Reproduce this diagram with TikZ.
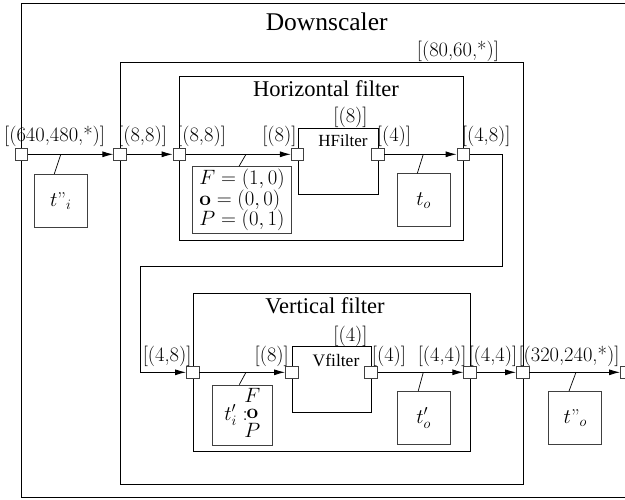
\documentclass[tikz,border=0pt]{standalone}
\usepackage[no-math]{fontspec}
\setmainfont{Liberation Serif}
\usetikzlibrary{arrows.meta,calc}
\newcommand\lmfont{\fontfamily{lmr}\selectfont}
\tikzset{
  box/.style={draw, line width=1pt, inner sep=0pt, anchor=north west},
  port/.style={draw=black!75, fill=white, minimum size=12.5pt, inner sep=0pt, line width=0.8pt},
  lbl/.style={font=\lmfont\fontsize{20.5}{24}\selectfont, inner sep=0pt},
  arr/.style={-{Latex[length=11pt,width=6pt]}, line width=0.9pt},
  tbox/.style={draw=black!75, inner sep=0pt, line width=0.8pt, font=\fontsize{20}{24}\selectfont},
  slash/.style={line width=0.7pt},
  title/.style={inner sep=0pt, anchor=base}
}
\begin{document}
\begin{tikzpicture}[x=1pt,y=-1pt]
\useasboundingbox (0,0) rectangle (625,499);
\clip (0,0) rectangle (625,499);
% boxes
\node[box, minimum width=630pt, minimum height=494.3pt] (down) at (21,2.7) {};
\node[box, minimum width=402.7pt, minimum height=422.6pt] (mid) at (120,61.7) {};
\node[box, minimum width=284pt, minimum height=164pt] (hf) at (179.3,76) {};
\node[box, minimum width=80.4pt, minimum height=65.7pt] (hfi) at (297.5,128.3) {};
\node[box, minimum width=277.3pt, minimum height=158.3pt] (vf) at (192.7,292.7) {};
\node[box, minimum width=79.3pt, minimum height=65.7pt] (vfi) at (291.7,346) {};
% titles
\node[title, font=\fontsize{25.5}{30}\selectfont] (tDown) at (326.7,30) {Downscaler};
\node[title, font=\fontsize{22.5}{27}\selectfont] (tHf) at (326,96.7) {Horizontal filter};
\node[title, font=\fontsize{22.5}{27}\selectfont] (tVf) at (325,313) {Vertical filter};
\node[title, font=\fontsize{17}{20}\selectfont] (tHfi) at (343,146.5) {HFilter};
\node[title, font=\fontsize{17.5}{20}\selectfont] (tVfi) at (336,366) {Vfilter};
% type boxes
\node[tbox, minimum width=53pt, minimum height=53pt] (ti) at (60.8,200.7) {$t\mbox{\lmfont''}_i$};
\node[tbox, minimum width=99.4pt, minimum height=66.6pt, align=left, inner sep=0.5pt, font=\fontsize{22.5}{20.8}\selectfont] (Fb) at (242,200) {$F=(1,0)$\\$\mathbf{o}=(0,0)$\\$P=(0,1)$};
\node[tbox, minimum width=53pt, minimum height=53pt] (to) at (423.7,200.3) {$t_o$};
\node[tbox, minimum width=60pt, minimum height=60pt] (tpi) at (242.3,415) {$t'_i\;{:}\!\renewcommand\arraystretch{0.66}\begin{array}{@{}c@{}}F\\\mathbf{o}\\P\end{array}$\hspace{6pt}};
\node[tbox, minimum width=53pt, minimum height=53pt] (tpo) at (423.7,418) {$t'_o$};
\node[tbox, minimum width=53pt, minimum height=53pt] (tdo) at (575.3,418) {$t\mbox{\lmfont''}_o$};
% ports
\node[port] (P1) at (21.3,154.3) {};
\node[port] (P2) at (120,154.3) {};
\node[port] (P3) at (179.3,154.3) {};
\node[port] (P4) at (297.5,154.3) {};
\node[port] (P5) at (377.7,154.3) {};
\node[port] (P6) at (463.3,154.3) {};
\node[port] (P7) at (192.7,372.3) {};
\node[port] (P8) at (291.7,372.3) {};
\node[port] (P9) at (371,372.3) {};
\node[port] (P10) at (470,372.3) {};
\node[port] (P11) at (522.7,372.3) {};
\node[port] (P12) at (626.7,372.3) {};
% connectors
\coordinate (c1) at (502.7,266.7);
\coordinate (c2) at (140,266.7);
\draw[arr] (P1) -- (P2);
\draw[arr] (P2) -- (P3);
\draw[arr] (P3) -- (P4);
\draw[arr] (P5) -- (P6);
\draw[arr] (P6.east) -| (c1) -- (c2) |- (P7.west);
\draw[arr] (P7) -- (P8);
\draw[arr] (P9) -- (P10);
\draw[arr] (P10) -- (P11);
\draw[arr] (P11) -- (P12);
% slashes
\draw[slash] ($(ti.north)+(-6.5,0)$) -- (ti.north |- P1);
\draw[slash] ($(Fb.north)+(-3,0)$) -- ($(Fb.north |- P3)+(4,0)$);
\draw[slash] ($(to.north)+(-6.4,0)$) -- ($(to.north |- P5)+(-0.4,0)$);
\draw[slash] ($(tpi.north)+(-3,0)$) -- ($(tpi.north |- P7)+(3.7,0)$);
\draw[slash] ($(tpo.north)+(-5.5,0)$) -- ($(tpo.north |- P9)+(-0.4,0)$);
\draw[slash] ($(tdo.north)+(-6.3,0)$) -- ($(tdo.north |- P11)+(0.7,0)$);
% port labels
\node[lbl, anchor=base west] (l1) at (4,141) {[(640,480,*)]};
\node[lbl, anchor=base west] (l2) at (118,141) {[(8,8)]};
\node[lbl, anchor=base west] (l3) at (177,141) {[(8,8)]};
\node[lbl, anchor=base east] (l4) at (296.7,141) {[(8)]};
\node[lbl, anchor=base] (l4b) at (350.5,122) {[(8)]};
\node[lbl, anchor=base west] (l5) at (376.7,141) {[(4)]};
\node[lbl, anchor=base west] (l6) at (461.7,141) {[(4,8)]};
\node[lbl, anchor=base west] (lm) at (416.7,56.7) {[(80,60,*)]};
\node[lbl, anchor=base east] (l7) at (191.7,361) {[(4,8)]};
\node[lbl, anchor=base east] (l8) at (289,361) {[(8)]};
\node[lbl, anchor=base] (l8b) at (350.5,341) {[(4)]};
\node[lbl, anchor=base west] (l9) at (371.7,361) {[(4)]};
\node[lbl, anchor=base east] (l10a) at (466.7,361) {[(4,4)]};
\node[lbl, anchor=base west] (l10b) at (468.3,361) {[(4,4)]};
\node[lbl, anchor=base west] (l11) at (518.3,361) {[(320,240,*)]};
\end{tikzpicture}
\end{document}
